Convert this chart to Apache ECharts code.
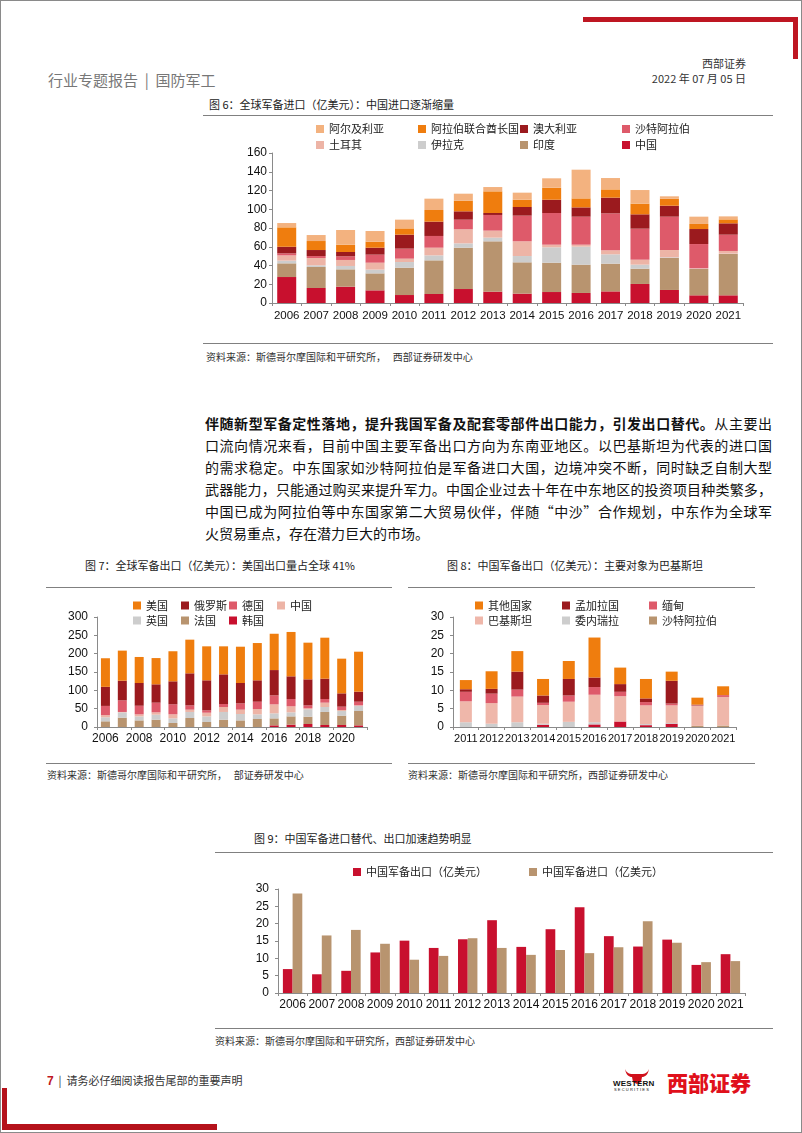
<!DOCTYPE html>
<html lang="zh-CN">
<head>
<meta charset="utf-8">
<title>全球军备进出口</title>
<script src="https://cdn.jsdelivr.net/npm/echarts@6.0.0/dist/echarts.min.js"></script>
<style>
html,body{margin:0;padding:0;background:#fff;}
#page{position:relative;width:802px;height:1133px;overflow:hidden;font-family:"Noto Sans CJK SC","Liberation Sans",sans-serif;color:#222;}
#frame{position:absolute;left:0;top:0;width:800px;height:1131px;border:1px solid #8a8a8a;}
.a{position:absolute;white-space:nowrap;}
.hl{position:absolute;height:1px;background:#808080;}
.red{position:absolute;background:#BE1622;}
.ttl{font-size:11px;line-height:14px;color:#222;}
.src{font-size:10px;line-height:13px;color:#333;}
.para{position:absolute;left:205px;width:567px;font-size:14px;line-height:20px;white-space:nowrap;text-align:justify;text-align-last:justify;color:#111;}
.para.last{text-align-last:left;}
.chart{position:absolute;}
</style>
</head>
<body>
<div id="page">
  <div id="frame"></div>
  <!-- header -->
  <div class="red" style="left:583px;top:17px;width:215px;height:5px;"></div>
  <div class="red" style="left:793px;top:17px;width:5px;height:42px;"></div>
  <div class="a" style="right:56px;top:56px;font-size:11px;line-height:14px;color:#333;">西部证券</div>
  <div class="a" style="right:56px;top:71px;font-size:11px;line-height:14px;color:#333;">2022 年 07 月 05 日</div>
  <div class="a" style="left:48px;top:70px;font-size:15px;line-height:20px;color:#777;">行业专题报告 &nbsp;|&nbsp; 国防军工</div>

  <!-- figure 6 -->
  <div class="a ttl" style="left:209px;top:97px;">图 6：全球军备进口（亿美元）：中国进口逐渐缩量</div>
  <div class="hl" style="left:203px;top:115px;width:570px;"></div>
  <div id="c6" class="chart" style="left:205px;top:118px;width:570px;height:220px;"></div>
  <div class="hl" style="left:203px;top:343px;width:570px;"></div>
  <div class="a src" style="left:206px;top:350px;">资料来源：斯德哥尔摩国际和平研究所，&nbsp;&nbsp;&nbsp;西部证券研发中心</div>

  <!-- paragraph -->
  <div class="para" style="top:413px;"><b>伴随新型军备定性落地，提升我国军备及配套零部件出口能力，引发出口替代。</b>从主要出</div>
  <div class="para" style="top:435px;">口流向情况来看，目前中国主要军备出口方向为东南亚地区。以巴基斯坦为代表的进口国</div>
  <div class="para" style="top:457px;">的需求稳定。中东国家如沙特阿拉伯是军备进口大国，边境冲突不断，同时缺乏自制大型</div>
  <div class="para" style="top:479px;">武器能力，只能通过购买来提升军力。中国企业过去十年在中东地区的投资项目种类繁多，</div>
  <div class="para" style="top:501px;">中国已成为阿拉伯等中东国家第二大贸易伙伴，伴随“中沙”合作规划，中东作为全球军</div>
  <div class="para last" style="top:523px;">火贸易重点，存在潜力巨大的市场。</div>

  <!-- figure 7 & 8 -->
  <div class="a ttl" style="left:85px;top:558px;">图 7：全球军备出口（亿美元）：美国出口量占全球 41%</div>
  <div class="a ttl" style="left:447px;top:558px;">图 8：中国军备出口（亿美元）：主要对象为巴基斯坦</div>
  <div class="hl" style="left:46px;top:587px;width:346px;"></div>
  <div class="hl" style="left:408px;top:587px;width:347px;"></div>
  <div id="c7" class="chart" style="left:45px;top:592px;width:350px;height:165px;"></div>
  <div id="c8" class="chart" style="left:408px;top:592px;width:350px;height:165px;"></div>
  <div class="hl" style="left:46px;top:763px;width:346px;"></div>
  <div class="hl" style="left:408px;top:763px;width:347px;"></div>
  <div class="a src" style="left:47px;top:768px;">资料来源：斯德哥尔摩国际和平研究所，&nbsp;&nbsp;&nbsp;部证券研发中心</div>
  <div class="a src" style="left:408px;top:768px;">资料来源：斯德哥尔摩国际和平研究所，西部证券研发中心</div>

  <!-- figure 9 -->
  <div class="a ttl" style="left:254px;top:831px;">图 9：中国军备进口替代、出口加速趋势明显</div>
  <div class="hl" style="left:215px;top:852px;width:558px;"></div>
  <div id="c9" class="chart" style="left:215px;top:858px;width:560px;height:165px;"></div>
  <div class="hl" style="left:215px;top:1028px;width:558px;"></div>
  <div class="a src" style="left:215px;top:1034px;">资料来源：斯德哥尔摩国际和平研究所，西部证券研发中心</div>

  <!-- footer -->
  <div class="a" style="left:47px;top:1073px;font-size:11px;line-height:14px;color:#333;"><b style="color:#BE1622;font-family:'Liberation Sans';font-size:12px;">7</b>&nbsp;&nbsp;|&nbsp;&nbsp;请务必仔细阅读报告尾部的重要声明</div>
  <svg class="a" style="left:624px;top:1068px;" width="26" height="16" viewBox="0 0 26 16">
    <path d="M1 1 C3 6 7 6 9 6 L17 6 C19 6 23 6 25 1 C24 7 21 9 18 9 L17 14 L13 16 L9 14 L8 9 C5 9 2 7 1 1 Z" fill="#D0101B"/>
  </svg>
  <div class="a" style="left:613px;top:1079px;font-size:8px;line-height:9px;font-weight:bold;font-family:'Liberation Sans';color:#111;letter-spacing:0.2px;">WESTERN</div>
  <div class="a" style="left:614px;top:1087px;font-size:4px;line-height:5px;font-family:'Liberation Sans';color:#111;letter-spacing:1.2px;">SECURITIES</div>
  <div class="a" style="left:667px;top:1069px;font-size:21px;line-height:26px;font-weight:900;color:#E0101B;">西部证券</div>
  <div class="red" style="left:2px;top:1088px;width:5px;height:42px;background:#B5121B;"></div>
  <div class="red" style="left:2px;top:1124px;width:215px;height:6px;background:#B5121B;"></div>
</div>

<script>
// ---------- data ----------
const years6 = ['2006','2007','2008','2009','2010','2011','2012','2013','2014','2015','2016','2017','2018','2019','2020','2021'];
const china6   = [27.7,16,17.4,13.5,8.5,9.6,14.9,12.1,10,11.7,10.7,12.4,20.3,13.9,8.2,8.2];
const india6   = [14.6,22.4,18.5,18.1,29.2,35.9,44.1,53.7,33.4,31.3,30.2,29.6,16.3,34.1,28.1,44.1];
const iraq6    = [2.9,1.8,3.6,4,6,5.3,4.6,3.9,6.7,16.4,19.2,9.9,4.3,0.7,0.3,0.3];
const turkey6  = [5.6,7.8,6.4,7.4,3.6,8.2,15,7.5,15.7,2.8,2.1,4.3,5.3,7.8,0.4,2.9];
const saudi6   = [2.2,2.1,3.9,8.6,10.7,12.5,10.3,16.7,27.4,33.8,29.9,39.4,33.1,35.6,25.9,17.4];
const austr6   = [7,6.4,4.6,7.4,14.9,15.3,8.9,2.1,9.2,14.2,9.9,16.8,15.3,11.7,16,12.1];
const uae6     = [20.7,9.6,7.8,6.4,6.7,12.4,11.4,23.1,7.8,12.8,9.6,8.8,11.4,7.5,5.4,4.2];
const algeria6 = [4.6,6.4,15.7,11.4,9.3,12.1,7.4,4.6,7.5,10,30.6,12.1,14.5,2.5,7.8,3.2];
const yTicks6 = [0,20,40,60,80,100,120,140,160];

const years7 = ['2006','2007','2008','2009','2010','2011','2012','2013','2014','2015','2016','2017','2018','2019','2020','2021'];
const korea7   = [0,0,0,0,0,0,0,0,0,0,4.5,6.4,8.2,5.5,5.5,4.5];
const france7  = [15.5,25.5,18,20,11,24.5,13.6,20,18,21.8,19,22.6,20,35.5,25.5,39.1];
const uk7      = [11,14.5,11,13.6,12.6,16.5,15.4,21,17.5,12.7,13.7,11,20,13.5,12.6,14.4];
const china7   = [6,1,5.5,6.4,11,6.3,10,13.5,11.8,14.5,24.5,16.4,2.8,11.9,2.8,1];
const germany7 = [25,31.7,23.5,26.4,27.3,11.7,6.5,8.2,17.2,20,24.6,20,8,10,9.1,10];
const russia7  = [52,53.6,62,50,62.7,87.4,81.8,80.9,55.5,58.3,69,61.8,71,55.4,36.3,27.4];
const usa7     = [78,82,71,71.6,82,91.8,92.7,76.4,99,101.7,99,121,100,111.8,94.6,109];
const yTicks7 = [0,50,100,150,200,250,300];

const years8 = ['2011','2012','2013','2014','2015','2016','2017','2018','2019','2020','2021'];
const unlabeled8 = [0,0,0,0.6,0,0.7,1.5,0.5,0.9,0,0];
const saudi8     = [0,0,0,0,0,0,0,0,0,0.3,0.4];
const venez8     = [1.3,0.9,1.3,0.3,1.4,0.6,0,0.3,0.2,0,0];
const pakistan8  = [5.7,5.6,7,5.1,5.5,7.5,6.9,5.1,4.8,5.5,7.8];
const myanmar8   = [2.6,2.6,1.9,0.6,1.7,2.1,1.2,0.9,0.5,0.1,0.5];
const bangla8    = [0.7,1.3,4.9,2,4.5,2.6,2.1,1,6.2,0.2,0];
const others8    = [2.5,4.8,5.6,4.5,4.9,10.9,4.5,5.3,2.5,1.9,2.4];
const yTicks8 = [0,5,10,15,20,25,30];

const years9 = ['2006','2007','2008','2009','2010','2011','2012','2013','2014','2015','2016','2017','2018','2019','2020','2021'];
const export9 = [6.9,5.4,6.4,11.7,15.1,13.0,15.5,21.0,13.3,18.4,24.7,16.4,13.4,15.4,8.1,11.2];
const import9 = [28.7,16.6,18.2,14.2,9.6,10.7,15.8,13.0,11.0,12.4,11.5,13.2,20.7,14.5,8.9,9.2];
const yTicks9 = [0,5,10,15,20,25,30];

// ---------- styles ----------
const FCN = '"Noto Sans CJK SC", sans-serif';
const FNUM = '"Liberation Sans", Arial, sans-serif';
const AX = '#8a8a8a';
const C = {
  lorange:'#F3B27F', orange:'#EF7D0E', dred:'#9B1A1E', pink:'#DE5A6A',
  lpink:'#EDB4A6', grey:'#CDCDCD', tan:'#B8946F', red:'#C8102E'
};

function xAxisCfg(data, interval, margin, fs){
  return {type:'category', data:data,
    axisLine:{show:true, lineStyle:{color:AX}},
    axisTick:{show:true, length:3, lineStyle:{color:AX}},
    axisLabel:{color:'#111', fontSize:fs, fontFamily:FNUM, margin:margin, interval:interval, hideOverlap:false},
    splitLine:{show:false}};
}
function yAxisCfg(ticks, margin){
  return {type:'value', min:ticks[0], max:ticks[ticks.length-1], interval:ticks[1]-ticks[0],
    axisLine:{show:true, lineStyle:{color:AX}},
    axisTick:{show:true, length:3, lineStyle:{color:AX}},
    axisLabel:{color:'#111', fontSize:12, fontFamily:FNUM, margin:margin},
    splitLine:{show:false}};
}
function legendCfg(left, top, width, textW, rowH, data){
  return {left:left, top:top, width:width, itemWidth:8, itemHeight:8, itemGap:0, icon:'rect',
    selectedMode:false, padding:0,
    textStyle:{fontSize:11, fontFamily:FCN, color:'#222', width:textW, height:rowH, lineHeight:rowH},
    data:data};
}
function stack(list, stackName, barWidth){
  return list.map(s => ({name:s[0], type:'bar', stack:stackName, data:s[1], barWidth:barWidth,
    itemStyle:{color:s[2]}, emphasis:{disabled:true}}));
}
function mk(id, opt){
  const c = echarts.init(document.getElementById(id), null, {renderer:'canvas'});
  opt.animation = false;
  opt.textStyle = {fontFamily:FCN};
  c.setOption(opt);
}

// ---------- figure 6 ----------
mk('c6', {
  legend: legendCfg(111, 3, 420, 89, 16,
    ['阿尔及利亚','阿拉伯联合酋长国','澳大利亚','沙特阿拉伯','土耳其','伊拉克','印度','中国']),
  grid:{left:67, right:32, top:35, bottom:35},
  xAxis: xAxisCfg(years6, 0, 7, 11.5),
  yAxis: yAxisCfg(yTicks6, 5),
  series: stack([
    ['中国', china6, C.red],
    ['印度', india6, C.tan],
    ['伊拉克', iraq6, C.grey],
    ['土耳其', turkey6, C.lpink],
    ['沙特阿拉伯', saudi6, C.pink],
    ['澳大利亚', austr6, C.dred],
    ['阿拉伯联合酋长国', uae6, C.orange],
    ['阿尔及利亚', algeria6, C.lorange]
  ], 's6', 19)
});

// ---------- figure 7 ----------
mk('c7', {
  legend: legendCfg(88, 6, 200, 35, 15, ['美国','俄罗斯','德国','中国','英国','法国','韩国']),
  grid:{left:52, right:28, top:25, bottom:30},
  xAxis: xAxisCfg(years7, 1, 6, 12),
  yAxis: yAxisCfg(yTicks7, 9),
  series: stack([
    ['韩国', korea7, C.red],
    ['法国', france7, C.tan],
    ['英国', uk7, C.grey],
    ['中国', china7, C.lpink],
    ['德国', germany7, C.pink],
    ['俄罗斯', russia7, C.dred],
    ['美国', usa7, C.orange]
  ], 's7', 9)
});

// ---------- figure 8 ----------
mk('c8', {
  legend: legendCfg(67, 6, 265, 74, 15, ['其他国家','孟加拉国','缅甸','巴基斯坦','委内瑞拉','沙特阿拉伯']),
  grid:{left:45, right:22, top:25, bottom:30},
  xAxis: xAxisCfg(years8, 0, 6, 11),
  yAxis: yAxisCfg(yTicks8, 9),
  series: stack([
    ['', unlabeled8, C.red],
    ['沙特阿拉伯', saudi8, C.tan],
    ['委内瑞拉', venez8, C.grey],
    ['巴基斯坦', pakistan8, '#EFB7AA'],
    ['缅甸', myanmar8, C.pink],
    ['孟加拉国', bangla8, C.dred],
    ['其他国家', others8, C.orange]
  ], 's8', 12)
});

// ---------- figure 9 ----------
mk('c9', {
  legend: legendCfg(138, 6, 360, 163, 16, ['中国军备出口（亿美元）','中国军备进口（亿美元）']),
  grid:{left:63, right:30, top:31, bottom:30},
  xAxis: xAxisCfg(years9, 0, 6, 12),
  yAxis: yAxisCfg(yTicks9, 9),
  series: [
    {name:'中国军备出口（亿美元）', type:'bar', data:export9, barWidth:9.7, barGap:'0%', itemStyle:{color:C.red}, emphasis:{disabled:true}},
    {name:'中国军备进口（亿美元）', type:'bar', data:import9, barWidth:9.7, barGap:'0%', itemStyle:{color:C.tan}, emphasis:{disabled:true}}
  ]
});
</script>
</body>
</html>
